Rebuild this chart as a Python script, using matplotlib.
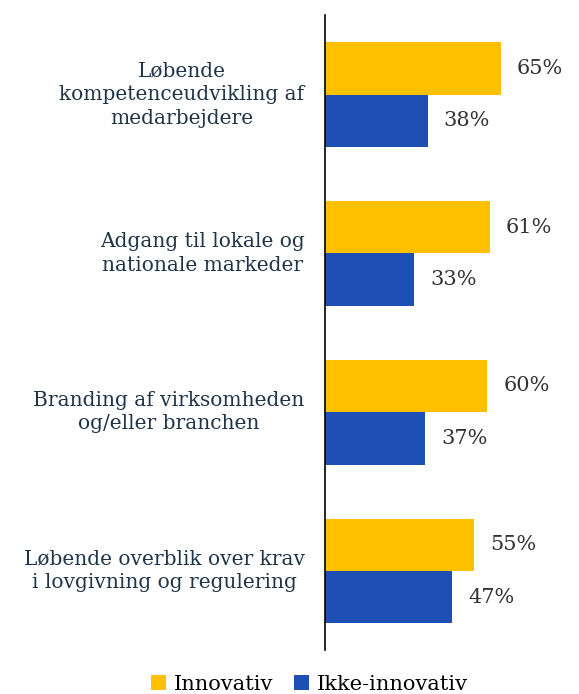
import matplotlib.pyplot as plt
import numpy as np

# Data
kategorier = [
    "Løbende\nkompetenceudvikling af\nmedarbejdere",
    "Adgang til lokale og\nnationale markeder",
    "Branding af virksomheden\nog/eller branchen",
    "Løbende overblik over krav\ni lovgivning og regulering",
]
innovativ = [65, 61, 60, 55]
ikke_innovativ = [38, 33, 37, 47]

gul = "#FFC000"
blaa = "#1D4FB5"
tekst_farve = "#1F3448"

plt.rcParams['font.family'] = ['DejaVu Serif']

fig = plt.figure(figsize=(5.79, 6.94), dpi=100)
ax = fig.add_axes([0.561, 0.063, 0.439, 0.915])

y = np.arange(len(kategorier))
h = 0.33

b1 = ax.barh(y - h / 2, innovativ, height=h, color=gul, label="Innovativ")
b2 = ax.barh(y + h / 2, ikke_innovativ, height=h, color=blaa, label="Ikke-innovativ")

# Værdi-labels
for bars in (b1, b2):
    for bar in bars:
        w = bar.get_width()
        ax.text(w + 6, bar.get_y() + bar.get_height() / 2, f"{w:.0f}%",
                va='center', ha='left', fontsize=15, color="#333333")

ax.set_ylim(len(kategorier) - 0.5, -0.5)
ax.set_xlim(0, 94)

# Kategori-labels
for i, k in enumerate(kategorier):
    ax.text(-7.5, i, k, ha='right', va='center', ma='center',
            fontsize=14.5, color=tekst_farve, linespacing=1.3)

ax.set_yticks([])
ax.set_xticks([])
for s in ['top', 'right', 'bottom']:
    ax.spines[s].set_visible(False)
ax.spines['left'].set_color('black')
ax.spines['left'].set_linewidth(1.2)

fig.legend(handles=[b1, b2], loc='center', bbox_to_anchor=(0.535, 0.014),
           ncol=2, frameon=False, fontsize=15, handlelength=0.7, handleheight=0.7,
           handletextpad=0.4, columnspacing=1.0)

plt.savefig('out.png', dpi=100)
